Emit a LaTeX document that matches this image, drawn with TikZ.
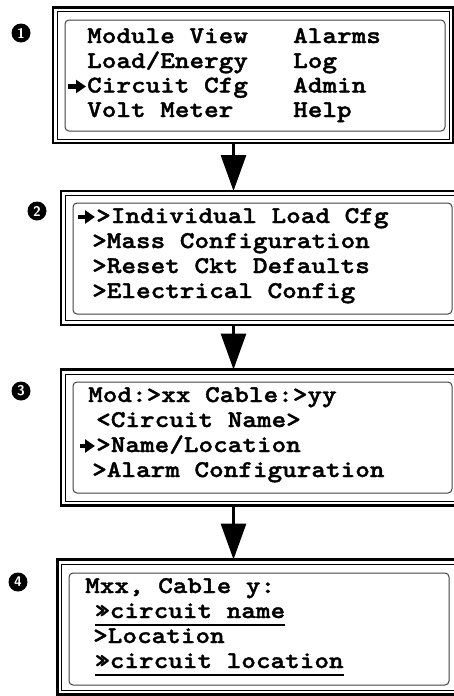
\documentclass[tikz,border=0pt]{standalone}
\usepackage{fontspec}
\usetikzlibrary{arrows.meta}
\newfontfamily\lcdfont{lmmonolt10-bold.otf}[FakeStretch=1.16,FakeBold=1.6]

\tikzset{
  frame/.style={draw, line width=2.6pt, inner sep=0pt, outer sep=0pt},
  rim/.style={draw, line width=0.8pt},
  screen/.style={draw=black!75, line width=1pt, rounded corners=4pt},
  row/.style={anchor=base west, inner sep=0pt, font=\lcdfont\fontsize{24}{24}\selectfont},
  stepnum/.style={circle, fill=black, text=white, inner sep=0pt, minimum size=19pt,
    font=\sffamily\bfseries\fontsize{14}{14}\selectfont},
  flow/.style={line width=3pt, -{Triangle[length=36pt,width=25pt]}},
  cursor/.style={line width=4.5pt, -{Triangle[length=10pt,width=13pt]}},
  uline/.style={line width=2pt}
}

\begin{document}
\begin{tikzpicture}[x=1pt,y=-1pt]
        \clip (0,0) rectangle (454,696);

        % panel frames
        \node[frame, minimum width=400pt, minimum height=135.5pt] (f1) at (253,75.25) {};
        \node[frame, minimum width=400pt, minimum height=134pt] (f2) at (260.8,258) {};
        \node[frame, minimum width=400pt, minimum height=136pt] (f3) at (260.8,437.5) {};
        \node[frame, minimum width=400pt, minimum height=135pt] (f4) at (257.75,627) {};

        \draw[rim] (57,11.5) rectangle (449,139);
        \draw[rim] (65,195.5) rectangle (457,320.5);
        \draw[rim] (65,374) rectangle (457,501);
        \draw[rim] (61.5,564) rectangle (454,690);

        \draw[screen] (65,20) rectangle (445,131);
        \draw[screen] (73,203) rectangle (452,314);
        \draw[screen] (73,382) rectangle (452,493);
        \draw[screen] (69,573) rectangle (449,685);

        % step numbers
        \node[stepnum] (s1) at (21,33) {1};
        \node[stepnum] (s2) at (37,211) {2};
        \node[stepnum] (s3) at (21,391) {3};
        \node[stepnum] (s4) at (18,582) {4};

        % flow arrows
        \coordinate (axis) at (233.5,0);
        \draw[flow] (f1.south -| axis) -- (f2.north -| axis);
        \draw[flow] (f2.south -| axis) -- (f3.north -| axis);
        \draw[flow] (f3.south -| axis) -- (f4.north -| axis);

        % screen 1
        \node[row] (a1) at (87,43) {Module View};
        \node[row] (a2) at (87,68) {Load/Energy};
        \node[row] (a3) at (87,92.5) {Circuit Cfg};
        \node[row] (a4) at (87,117) {Volt Meter};
        \node[row] (a5) at (293,43) {Alarms};
        \node[row] (a6) at (293,68) {Log};
        \node[row] (a7) at (293,92.5) {Admin};
        \node[row] (a8) at (293,117) {Help};
        \draw[cursor] (68,86.5) -- (86,86.5);

        % screen 2
        \node[row] (b1) at (96,223) {>Individual Load Cfg};
        \node[row] (b2) at (92,248) {>Mass Configuration};
        \node[row] (b3) at (92,273) {>Reset Ckt Defaults};
        \node[row] (b4) at (92,298) {>Electrical Config};
        \draw[cursor] (78,217) -- (95,217);

        % screen 3
        \node[row] (c1) at (88,402) {Mod:>xx Cable:>yy};
        \node[row] (c2) at (96,427) {<Circuit Name>};
        \node[row] (c3) at (96,452) {>Name/Location};
        \node[row] (c4) at (92,477) {>Alarm Configuration};
        \draw[cursor] (80,446) -- (95,446);

        % screen 4
        \node[row] (d1) at (85,593) {Mxx, Cable y:};
        \node[row] (d2) at (95,618) {»circuit name};
        \node[row] (d3) at (93,643) {>Location};
        \node[row] (d4) at (95,668) {»circuit location};
        \draw[uline] ([yshift=-7pt]d2.base west) -- ([yshift=-7pt]d2.base east);
        \draw[uline] ([yshift=-7pt]d4.base west) -- ([yshift=-7pt]d4.base east);
\end{tikzpicture}
\end{document}
